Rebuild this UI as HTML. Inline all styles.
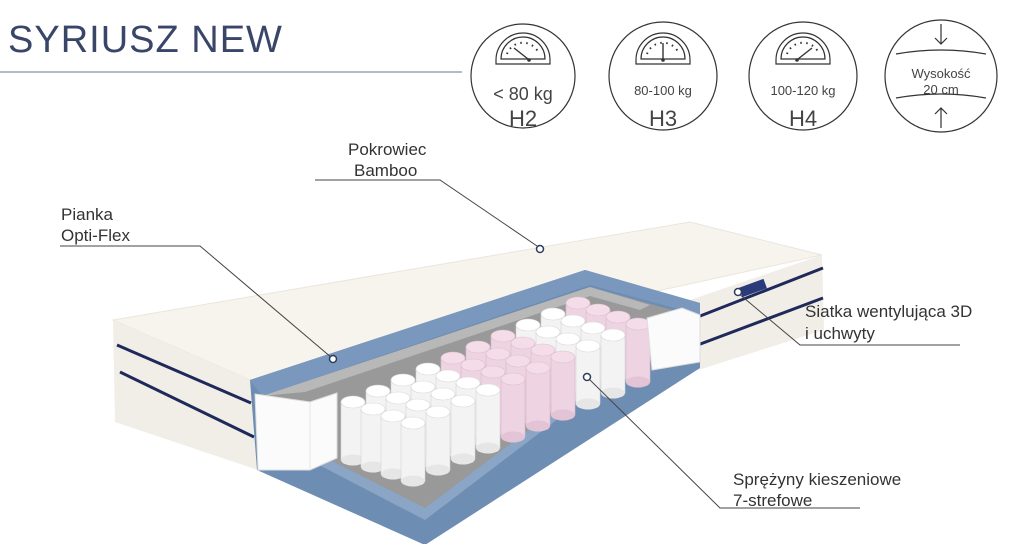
<!DOCTYPE html>
<html><head><meta charset="utf-8"><style>
body{margin:0;background:#fff;}
svg{display:block;font-family:"Liberation Sans",sans-serif;}
</style></head><body>
<svg width="1020" height="544" viewBox="0 0 1020 544" xmlns="http://www.w3.org/2000/svg">
<defs>
<g id="w"><rect x="-12" y="0" width="24" height="58" fill="#f3f3f3" stroke="#d4d4d4" stroke-width="0.6"/><ellipse cx="0" cy="58" rx="12" ry="5.5" fill="#e6e6e6"/><ellipse cx="0" cy="0" rx="12" ry="6" fill="#fff" stroke="#d8d8d8" stroke-width="0.6"/></g>
<g id="p"><rect x="-12" y="0" width="24" height="58" fill="#eed3e2" stroke="#d9b9cc" stroke-width="0.6"/><ellipse cx="0" cy="58" rx="12" ry="5.5" fill="#e2c4d6"/><ellipse cx="0" cy="0" rx="12" ry="6" fill="#f4dce9" stroke="#dcc0d0" stroke-width="0.6"/></g>
<g id="g" fill="none" stroke="#333" stroke-width="1.2"><path d="M-27 0 A27 27 0 0 1 27 0 V4 H-27 Z M-22 -1 A22 22 0 0 1 22 -1 Z"/><g stroke-width="2" stroke-dasharray="1.5 4.5"><path d="M-16 -6 A17 17 0 0 1 16 -6"/></g></g>
</defs>
<text x="8" y="52" font-size="38" fill="#3a4668" letter-spacing="1">SYRIUSZ NEW</text>
<line x1="0" y1="72" x2="462" y2="72" stroke="#6a7390" stroke-width="1"/>
<g fill="none" stroke="#333" stroke-width="1.2">
<circle cx="523" cy="76" r="52"/><circle cx="663" cy="76" r="54"/><circle cx="803" cy="76" r="54"/><circle cx="941" cy="76" r="56"/>
<path d="M941 24 V44 M935 38 L941 44 L947 38 M941 128 V108 M935 114 L941 108 L947 114"/>
<path d="M896 54 Q941 46 986 54 M896 98 Q941 90 986 98"/>
</g>
<use href="#g" x="523" y="60"/><use href="#g" x="663" y="60"/><use href="#g" x="803" y="60"/>
<g stroke="#333" stroke-width="1.4"><line x1="514" y1="48" x2="528" y2="59"/><line x1="663" y1="43" x2="663" y2="59"/><line x1="812" y1="48" x2="798" y2="59"/></g>
<g fill="#333"><circle cx="529" cy="60" r="1.8"/><circle cx="663" cy="60" r="1.8"/><circle cx="797" cy="60" r="1.8"/></g>
<g fill="#444" text-anchor="middle">
<text x="523" y="100" font-size="18">&lt; 80 kg</text><text x="523" y="126" font-size="22">H2</text>
<text x="663" y="95" font-size="13">80-100 kg</text><text x="663" y="126" font-size="22">H3</text>
<text x="803" y="95" font-size="13">100-120 kg</text><text x="803" y="126" font-size="22">H4</text>
<text x="941" y="78" font-size="13">Wysokość</text><text x="941" y="94" font-size="13">20 cm</text>
</g>
<!-- mattress -->
<polygon points="113,320 690,222 822,255 250,380" fill="#f7f4ee" stroke="#ebe6dc"/>
<polygon points="113,320 250,380 258,470 115,422" fill="#f1eee7"/>
<path d="M117 345 L251 403 M120 372 L254 437" stroke="#1f2a5a" stroke-width="3" fill="none"/>
<polygon points="690,300 822,255 824,330 692,372" fill="#f1eee7"/>
<path d="M695 318 L823 268 M695 346 L823 298" stroke="#1f2a5a" stroke-width="3" fill="none"/>
<rect x="740" y="283" width="26" height="10" fill="#2a3a7a" transform="rotate(-20 753 288)"/>
<!-- cutaway -->
<polygon points="250,380 585,270 700,303 700,368 425,545 257,470" fill="#6e8db3"/>
<polygon points="262,396 590,287 690,315 655,340 425,520 300,455" fill="#999"/>
<polygon points="262,396 590,287 650,305 640,310 590,296 305,392" fill="#b8b8b8"/>
<polygon points="250,380 585,270 700,303 700,315 590,285 262,396" fill="#7a98bd"/>
<polygon points="300,455 425,520 655,345 655,335 425,508 300,445" fill="#8aa5c6"/>
<g>
<use href="#p" x="578" y="303"/><use href="#w" x="553" y="314"/><use href="#w" x="528" y="325"/><use href="#p" x="503" y="336"/><use href="#p" x="478" y="347"/><use href="#p" x="453" y="358"/><use href="#w" x="428" y="369"/><use href="#w" x="403" y="380"/><use href="#w" x="378" y="391"/><use href="#w" x="353" y="402"/>
<use href="#p" x="598" y="310"/><use href="#w" x="573" y="321"/><use href="#w" x="548" y="332"/><use href="#p" x="523" y="343"/><use href="#p" x="498" y="354"/><use href="#p" x="473" y="365"/><use href="#w" x="448" y="376"/><use href="#w" x="423" y="387"/><use href="#w" x="398" y="398"/><use href="#w" x="373" y="409"/>
<use href="#p" x="618" y="317"/><use href="#w" x="593" y="328"/><use href="#w" x="568" y="339"/><use href="#p" x="543" y="350"/><use href="#p" x="518" y="361"/><use href="#p" x="493" y="372"/><use href="#w" x="468" y="383"/><use href="#w" x="443" y="394"/><use href="#w" x="418" y="405"/><use href="#w" x="393" y="416"/>
<use href="#p" x="638" y="324"/><use href="#w" x="613" y="335"/><use href="#w" x="588" y="346"/><use href="#p" x="563" y="357"/><use href="#p" x="538" y="368"/><use href="#p" x="513" y="379"/><use href="#w" x="488" y="390"/><use href="#w" x="463" y="401"/><use href="#w" x="438" y="412"/><use href="#w" x="413" y="423"/>
</g>
<polygon points="255,394 310,402 337,393 337,458 310,470 258,470" fill="#fbfbfb" stroke="#ddd"/>
<polygon points="310,402 310,470" stroke="#e4e4e4"/>
<polygon points="647,318 682,308 700,315 700,362 652,370" fill="#fbfbfb" stroke="#ddd"/>
<!-- labels -->
<g fill="none" stroke="#444" stroke-width="1">
<path d="M315 180 H440 L540 248"/>
<path d="M60 246 H200 L332 358"/>
<path d="M738 293 L800 345 H960"/>
<path d="M588 378 L720 508 H860"/>
</g>
<g fill="#fff" stroke="#2d3b5e" stroke-width="1.5">
<circle cx="540" cy="249" r="3.5"/><circle cx="333" cy="359" r="3.5"/><circle cx="738" cy="292" r="3.5"/><circle cx="587" cy="377" r="3.5"/>
</g>
<g font-size="17" fill="#333">
<text x="348" y="155">Pokrowiec</text><text x="354" y="176">Bamboo</text>
<text x="61" y="220">Pianka</text><text x="61" y="241">Opti-Flex</text>
<text x="805" y="317">Siatka wentylująca 3D</text><text x="805" y="339">i uchwyty</text>
<text x="733" y="485">Sprężyny kieszeniowe</text><text x="733" y="506">7-strefowe</text>
</g>
</svg>
</body></html>
